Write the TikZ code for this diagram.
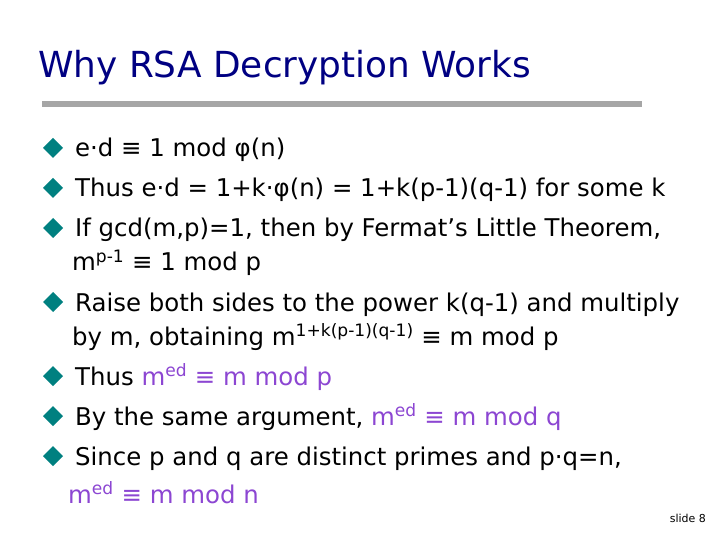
\documentclass[tikz,border=0pt]{standalone}
\usepackage{fontspec}
\setmainfont{DejaVu Sans}
\definecolor{bul}{RGB}{0,128,128}
\definecolor{purp}{RGB}{140,70,210}
\definecolor{titc}{RGB}{0,0,130}
\begin{document}
\begin{tikzpicture}[x=1bp,y=-1bp,
 txt/.style={anchor=base west,inner sep=0,font=\fontsize{24.5}{28}\selectfont}]
\useasboundingbox (0,0) rectangle (720,540);
\node[anchor=base west,inner sep=0,font=\fontsize{36}{40}\selectfont,text=titc] (title) at (38,78) {Why RSA Decryption Works};
\fill[gray!70] (42,101) rectangle (642,107);
\foreach \y in {148,188,228,302,376,416,456}{
 \fill[bul] (43,\y) -- (53,\y-10) -- (63,\y) -- (53,\y+10) -- cycle;
}
\node[txt] (l1) at (75,157) {e·d ≡ 1 mod φ(n)};
\node[txt] (l2) at (75,197) {Thus e·d = 1+k·φ(n) = 1+k(p-1)(q-1) for some k};
\node[txt] (l3) at (75,237) {If gcd(m,p)=1, then by Fermat’s Little Theorem,};
\node[txt] (l3b) at (72,271) {m\textsuperscript{p-1} ≡ 1 mod p};
\node[txt] (l4) at (75,311) {Raise both sides to the power k(q-1) and multiply};
\node[txt] (l4b) at (72,345) {by m, obtaining m\textsuperscript{1+k(p-1)(q-1)} ≡ m mod p};
\node[txt] (l5) at (75,385) {Thus \textcolor{purp}{m\textsuperscript{ed} ≡ m mod p}};
\node[txt] (l6) at (75,425) {By the same argument, \textcolor{purp}{m\textsuperscript{ed} ≡ m mod q}};
\node[txt] (l7) at (75,465) {Since p and q are distinct primes and p·q=n,};
\node[txt,text=purp] (l7b) at (68,503) {m\textsuperscript{ed} ≡ m mod n};
\node[anchor=base east,inner sep=0,font=\fontsize{11}{12}\selectfont] (sl) at (706,522) {slide 8};
\end{tikzpicture}
\end{document}
